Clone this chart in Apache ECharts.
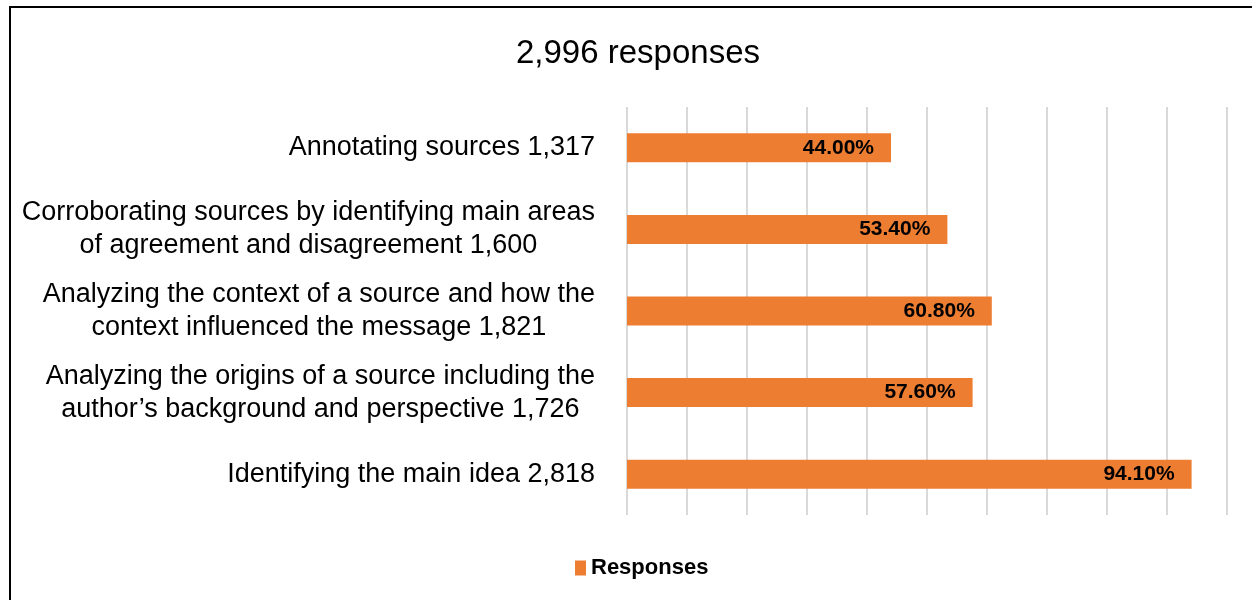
<!DOCTYPE html>
<html>
<head>
<meta charset="utf-8">
<script src="https://cdn.jsdelivr.net/npm/echarts@6/dist/echarts.min.js"></script>
<style>
html,body{margin:0;padding:0;background:#fff;}
#main{width:1252px;height:600px;}
</style>
</head>
<body>
<div id="main"></div>
<script>
const titleText = '2,996 responses';
const seriesName = 'Responses';
const categories = [
  ['Annotating sources 1,317'],
  ['Corroborating sources by identifying main areas', 'of agreement and disagreement 1,600'],
  ['Analyzing the context of a source and how the', 'context influenced the message 1,821'],
  ['Analyzing the origins of a source including the', 'author\u2019s background and perspective 1,726'],
  ['Identifying the main idea 2,818']
];
const values = [44.0, 53.4, 60.8, 57.6, 94.1];

const FONT = '"Liberation Sans", Arial, sans-serif';
const chart = echarts.init(document.getElementById('main'));
chart.setOption({
  animation: false,
  backgroundColor: '#fff',
  title: {
    text: titleText,
    left: 633,
    textAlign: 'center',
    top: 32,
    textStyle: {fontFamily: FONT, fontSize: 33, fontWeight: 'normal', color: '#000'}
  },
  legend: {
    bottom: 16,
    left: 570,
    itemWidth: 11,
    itemHeight: 15,
    itemGap: 9,
    icon: 'rect',
    textStyle: {fontFamily: FONT, fontSize: 22, fontWeight: 'bold', color: '#000'}
  },
  grid: {left: 627, right: 25, top: 107, bottom: 85},
  xAxis: {
    type: 'value', min: 0, max: 100, interval: 10,
    axisLine: {show: false}, axisTick: {show: false}, axisLabel: {show: false},
    splitLine: {show: true, lineStyle: {color: '#d9d9d9', width: 2}}
  },
  yAxis: {
    type: 'category', inverse: true,
    data: categories.map(c => c.join('\n')),
    axisLine: {show: false}, axisTick: {show: false},
    axisLabel: {
      margin: 32,
      formatter: (v) => v.split('\n').map(s => '{a|' + s + '}').join('\n'),
      rich: {a: {fontFamily: FONT, fontSize: 27, color: '#000', align: 'center', lineHeight: 33}}
    }
  },
  series: [{
    name: seriesName,
    type: 'bar',
    data: values,
    barWidth: 29,
    itemStyle: {color: '#ed7d31'},
    label: {
      show: true, position: 'insideRight', distance: 17,
      formatter: (p) => p.value.toFixed(2) + '%',
      fontFamily: FONT, fontSize: 21, fontWeight: 'bold', color: '#000'
    }
  }],
  graphic: [{
    type: 'polyline',
    shape: {points: [[10, 601], [10, 7], [1253, 7]]},
    style: {stroke: '#000', lineWidth: 2, fill: null},
    silent: true
  }]
});
</script>
</body>
</html>
